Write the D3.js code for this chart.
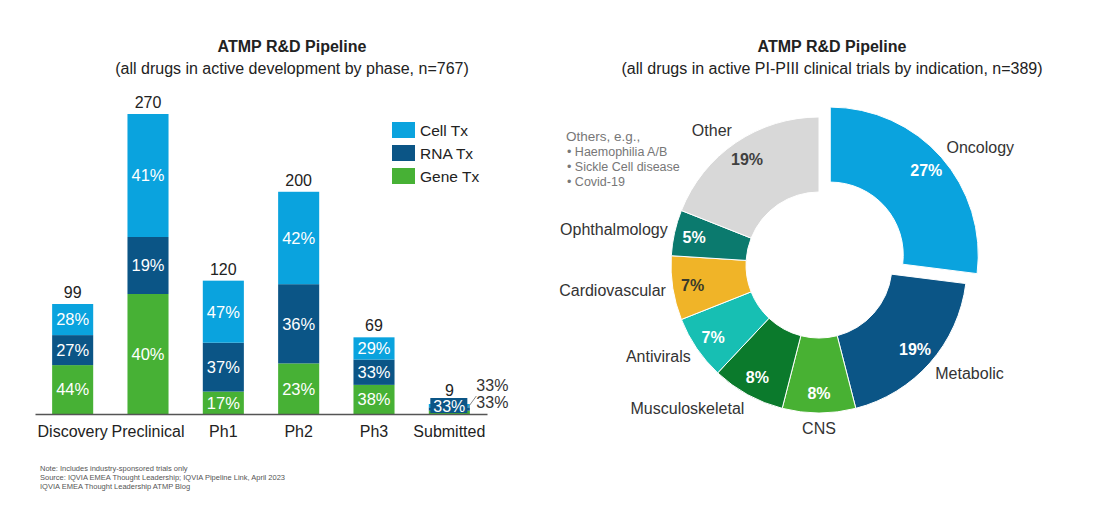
<!DOCTYPE html>
<html>
<head>
<meta charset="utf-8">
<script src="https://cdn.jsdelivr.net/npm/d3@7"></script>
<style>
body { margin:0; background:#fff; }
svg { display:block; font-family:"Liberation Sans", Arial, sans-serif; }
</style>
</head>
<body>
<div id="viz"></div>
<script>
var width = 1100, height = 511;

// left chart: drugs by phase
var phases = ["Discovery", "Preclinical", "Ph1", "Ph2", "Ph3", "Submitted"];
var totals = [99, 270, 120, 200, 69, 9];
var series = ["Gene Tx", "RNA Tx", "Cell Tx"];
var genePct = [44, 40, 17, 23, 38, 33];
var rnaPct  = [27, 19, 37, 36, 33, 33];
var cellPct = [28, 41, 47, 42, 29, 33];
var legendOrder = ["Cell Tx", "RNA Tx", "Gene Tx"];

// right chart: clinical trials by indication
var indications = ["Oncology", "Metabolic", "CNS", "Musculoskeletal", "Antivirals", "Cardiovascular", "Ophthalmology", "Other"];
var shares = [27, 19, 8, 8, 7, 7, 5, 19];
var otherNotes = ["Others, e.g.,", "• Haemophilia A/B", "• Sickle Cell disease", "• Covid-19"];
var footNotes = ["Note: Includes industry-sponsored trials only",
                 "Source: IQVIA EMEA Thought Leadership; IQVIA Pipeline Link, April 2023",
                 "IQVIA EMEA Thought Leadership ATMP Blog"];

var svg = d3.select("#viz").append("svg")
  .attr("width", width).attr("height", height);

var seriesColor = d3.scaleOrdinal()
  .domain(["Cell Tx", "RNA Tx", "Gene Tx"])
  .range(["#0aa3de", "#0b5586", "#47b135"]);

// ---- left titles
svg.append("text").attr("x", 292).attr("y", 52).attr("text-anchor", "middle")
  .style("font-weight", "bold").style("font-size", "16px").attr("fill", "#222")
  .text("ATMP R&D Pipeline");
svg.append("text").attr("x", 292).attr("y", 74).attr("text-anchor", "middle")
  .style("font-size", "16px").attr("fill", "#222")
  .text("(all drugs in active development by phase, n=767)");

// ---- stacked bars
var XScale = d3.scaleBand().domain(phases).range([35, 487])
  .paddingInner(0.455).paddingOuter(0.2275);
var YScale = d3.scaleLinear().domain([0, 270]).range([414, 114]);

var pctBySeries = { "Gene Tx": genePct, "RNA Tx": rnaPct, "Cell Tx": cellPct };
var rows = phases.map(function(p, i) {
  var sum = genePct[i] + rnaPct[i] + cellPct[i];
  var r = { phase: p, total: totals[i] };
  series.forEach(function(s) { r[s] = totals[i] * pctBySeries[s][i] / sum; r[s + "_pct"] = pctBySeries[s][i]; });
  return r;
});
var stack = d3.stack().keys(series)(rows);

var layer = svg.selectAll("g.layer").data(stack).enter().append("g")
  .attr("class", "layer").attr("fill", function(d) { return seriesColor(d.key); });

layer.selectAll("rect").data(function(d) { return d; }).enter().append("rect")
  .attr("x", function(d) { return XScale(d.data.phase); })
  .attr("y", function(d) { return YScale(d[1]); })
  .attr("width", XScale.bandwidth())
  .attr("height", function(d) { return YScale(d[0]) - YScale(d[1]); });

// percent labels inside segments (large bars only)
layer.each(function(s) {
  d3.select(this).selectAll("text").data(s.filter(function(d) { return d.data.total > 20; }))
    .enter().append("text")
    .attr("x", function(d) { return XScale(d.data.phase) + XScale.bandwidth() / 2; })
    .attr("y", function(d) { return (YScale(d[0]) + YScale(d[1])) / 2; })
    .attr("dy", "0.36em").attr("text-anchor", "middle")
    .attr("fill", "#fff").style("font-size", "16.5px")
    .text(function(d) { return d.data[s.key + "_pct"] + "%"; });
});

// callout labels for tiny bar
rows.forEach(function(r) {
  if (r.total > 20) return;
  var cx = XScale(r.phase) + XScale.bandwidth() / 2;
  var yb = YScale(0) - 8;
  svg.append("rect").attr("x", cx - 19).attr("y", yb - 8).attr("width", 37).attr("height", 15)
    .attr("fill", seriesColor("RNA Tx"));
  svg.append("text").attr("x", cx).attr("y", yb).attr("dy", "0.36em").attr("text-anchor", "middle")
    .attr("fill", "#fff").style("font-size", "16px").text(r["RNA Tx_pct"] + "%");
  svg.append("line").attr("x1", cx + 19).attr("y1", yb + 1).attr("x2", cx + 27).attr("y2", yb - 10)
    .attr("stroke", "#888").attr("stroke-width", 1);
  svg.append("text").attr("x", cx + 27).attr("y", yb - 21).attr("dy", "0.36em")
    .attr("fill", "#333").style("font-size", "16px").text(r["Cell Tx_pct"] + "%");
  svg.append("text").attr("x", cx + 27).attr("y", yb - 4).attr("dy", "0.36em")
    .attr("fill", "#333").style("font-size", "16px").text(r["Gene Tx_pct"] + "%");
});

// totals above bars
svg.selectAll("text.total").data(rows).enter().append("text")
  .attr("class", "total")
  .attr("x", function(d) { return XScale(d.phase) + XScale.bandwidth() / 2; })
  .attr("y", function(d) { return d.total > 20 ? YScale(d.total) - 6 : YScale(0) - 18; })
  .attr("text-anchor", "middle").attr("fill", "#222").style("font-size", "16px")
  .text(function(d) { return d.total; });

// x axis
var xAxis = d3.axisBottom(XScale).tickSize(0).tickPadding(12);
var gx = svg.append("g").attr("transform", "translate(0," + YScale(0) + ")").call(xAxis);
gx.select(".domain").attr("stroke", "#555").attr("stroke-width", 1.3);
gx.selectAll("text").style("font-size", "16px").attr("fill", "#222")
  .style("font-family", "'Liberation Sans', Arial, sans-serif");

// legend
var lg = svg.selectAll("g.legend").data(legendOrder).enter().append("g")
  .attr("class", "legend")
  .attr("transform", function(d, i) { return "translate(392," + (122 + i * 23) + ")"; });
lg.append("rect").attr("width", 23).attr("height", 16).attr("fill", function(d) { return seriesColor(d); });
lg.append("text").attr("x", 28).attr("y", 8).attr("dy", "0.36em")
  .style("font-size", "15.5px").attr("fill", "#222").text(function(d) { return d; });

// footnotes
svg.selectAll("text.foot").data(footNotes).enter().append("text")
  .attr("class", "foot").attr("x", 40).attr("y", function(d, i) { return 471 + i * 9; })
  .style("font-size", "7.5px").attr("fill", "#555").text(function(d) { return d; });

// ---- right titles
svg.append("text").attr("x", 832).attr("y", 52).attr("text-anchor", "middle")
  .style("font-weight", "bold").style("font-size", "16px").attr("fill", "#222")
  .text("ATMP R&D Pipeline");
svg.append("text").attr("x", 832).attr("y", 74).attr("text-anchor", "middle")
  .style("font-size", "16px").attr("fill", "#222")
  .text("(all drugs in active PI-PIII clinical trials by indication, n=389)");

// ---- donut
var cx = 819, cy = 265;
var pieColor = d3.scaleOrdinal().domain(indications)
  .range(["#0aa3de", "#0b5586", "#48b133", "#0b7a2c", "#17bfb3", "#f0b428", "#0b7a6e", "#d8d8d8"]);
var darkLabel = { "Cardiovascular": "#3a3a2a", "Other": "#404040" };

var pie = d3.pie().sort(null).value(function(d) { return d.v; });
var arcs = pie(indications.map(function(n, i) { return { name: n, v: shares[i] }; }));
var arc = d3.arc().innerRadius(73).outerRadius(148);
var pctArc = d3.arc().innerRadius(128).outerRadius(128);
var labelRx = 155, labelRy = 163;

function midAngle(d) { return (d.startAngle + d.endAngle) / 2; }

var donut = svg.append("g").attr("transform", "translate(" + cx + "," + cy + ")");
var slice = donut.selectAll("g.slice").data(arcs).enter().append("g")
  .attr("class", "slice")
  .attr("transform", function(d) {
    if (d.index !== 0) return null;
    var a = midAngle(d);
    return "translate(" + (Math.sin(a) * 15) + "," + (-Math.cos(a) * 15) + ")";
  });

slice.append("path").attr("d", arc)
  .attr("fill", function(d) { return pieColor(d.data.name); })
  .attr("stroke", "#fff").attr("stroke-width", 1);

slice.append("text")
  .attr("transform", function(d) { return "translate(" + pctArc.centroid(d) + ")"; })
  .attr("dy", "0.36em").attr("text-anchor", "middle")
  .style("font-weight", "bold").style("font-size", "16px")
  .attr("fill", function(d) { return darkLabel[d.data.name] || "#fff"; })
  .text(function(d) { return d.data.v + "%"; });

slice.append("text")
  .attr("transform", function(d) {
    var a = midAngle(d);
    return "translate(" + (Math.sin(a) * labelRx) + "," + (-Math.cos(a) * labelRy) + ")";
  })
  .attr("dy", "0.36em")
  .attr("text-anchor", function(d) {
    var s = Math.sin(midAngle(d));
    if (Math.abs(s) < 0.1) return "middle";
    return s > 0 ? "start" : "end";
  })
  .style("font-size", "16px").attr("fill", "#333")
  .text(function(d) { return d.data.name; });

// note next to "Other"
svg.selectAll("text.others").data(otherNotes).enter().append("text")
  .attr("class", "others").attr("x", function(d, i) { return i === 0 ? 566 : 567; })
  .attr("y", function(d, i) { return i === 0 ? 141 : 141 + i * 15; })
  .style("font-size", function(d, i) { return i === 0 ? "13.5px" : "12.5px"; })
  .attr("fill", "#777").text(function(d) { return d; });
</script>
</body>
</html>
